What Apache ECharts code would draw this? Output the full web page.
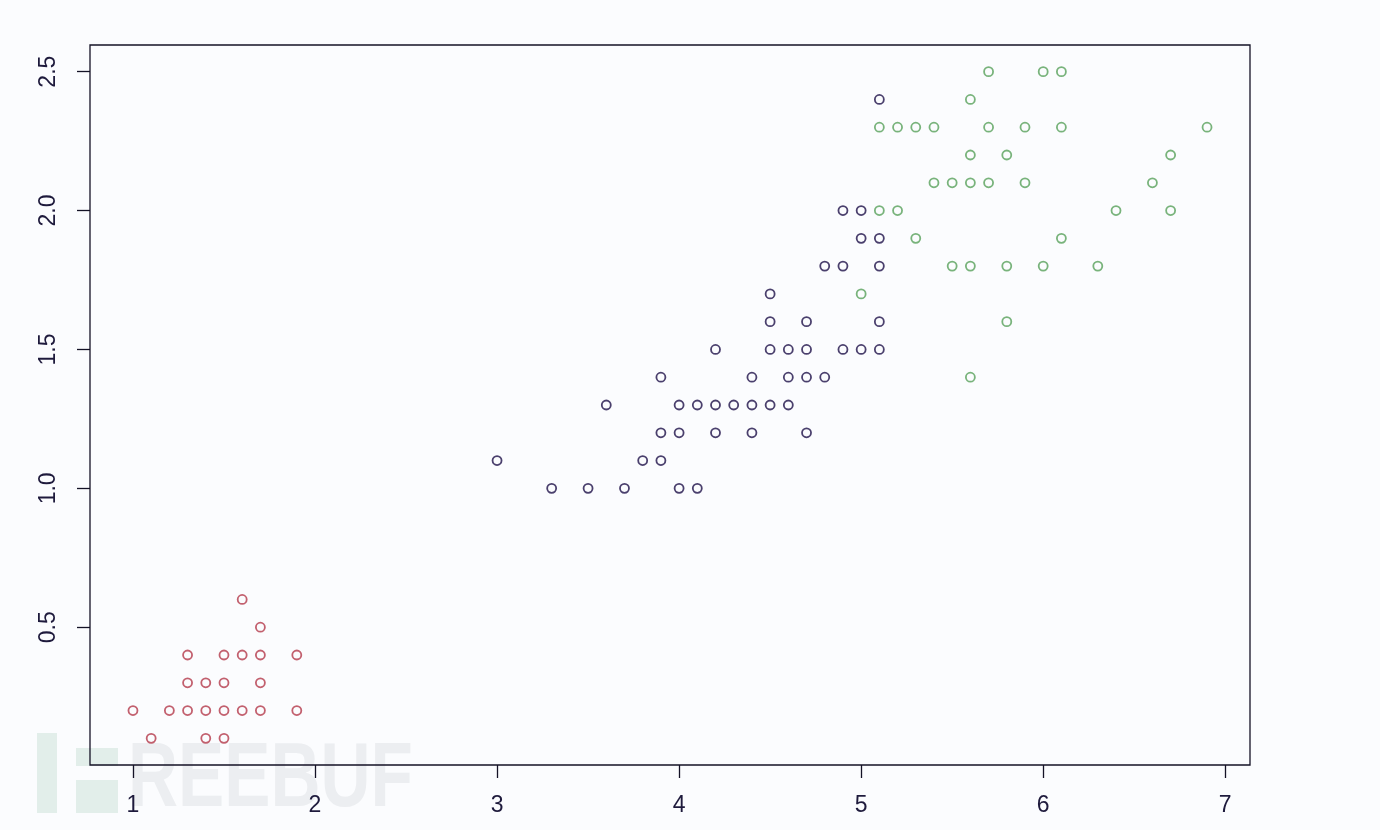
<!DOCTYPE html>
<html>
<head>
<meta charset="utf-8">
<script src="https://cdn.jsdelivr.net/npm/echarts@6/dist/echarts.min.js"></script>
<style>
  html, body { margin: 0; padding: 0; background: #fbfcfe; }
  #chart { width: 1380px; height: 830px; }
</style>
</head>
<body>
<div id="chart"></div>
<script>
// petal length / petal width, one pair of arrays per cluster
const redLength = [1.1, 1.4, 1.5, 1.0, 1.2, 1.3, 1.4, 1.5, 1.6, 1.7, 1.9, 1.3, 1.4, 1.5, 1.7, 1.3, 1.5, 1.6, 1.7, 1.9, 1.7, 1.6]
const redWidth = [0.1, 0.1, 0.1, 0.2, 0.2, 0.2, 0.2, 0.2, 0.2, 0.2, 0.2, 0.3, 0.3, 0.3, 0.3, 0.4, 0.4, 0.4, 0.4, 0.4, 0.5, 0.6]

const darkLength = [3.3, 3.5, 3.7, 4.0, 4.1, 3.0, 3.8, 3.9, 3.9, 4.0, 4.2, 4.4, 4.7,
  3.6, 4.0, 4.1, 4.2, 4.3, 4.4, 4.5, 4.6, 3.9, 4.4, 4.6, 4.7, 4.8,
  4.2, 4.5, 4.6, 4.7, 4.9, 5.0, 5.1, 4.5, 4.7, 5.1, 4.5, 4.8, 4.9, 5.1, 5.0, 5.1, 4.9, 5.0, 5.1]
const darkWidth = [1.0, 1.0, 1.0, 1.0, 1.0, 1.1, 1.1, 1.1, 1.2, 1.2, 1.2, 1.2, 1.2,
  1.3, 1.3, 1.3, 1.3, 1.3, 1.3, 1.3, 1.3, 1.4, 1.4, 1.4, 1.4, 1.4,
  1.5, 1.5, 1.5, 1.5, 1.5, 1.5, 1.5, 1.6, 1.6, 1.6, 1.7, 1.8, 1.8, 1.8, 1.9, 1.9, 2.0, 2.0, 2.4]

const greenLength = [5.7, 6.0, 6.1, 5.6, 5.1, 5.2, 5.3, 5.4, 5.7, 5.9, 6.1, 6.9,
  5.6, 5.8, 6.7, 5.4, 5.5, 5.6, 5.7, 5.9, 6.6, 5.1, 5.2, 6.4, 6.7,
  5.3, 6.1, 5.5, 5.6, 5.8, 6.0, 6.3, 5.0, 5.8, 5.6]
const greenWidth = [2.5, 2.5, 2.5, 2.4, 2.3, 2.3, 2.3, 2.3, 2.3, 2.3, 2.3, 2.3,
  2.2, 2.2, 2.2, 2.1, 2.1, 2.1, 2.1, 2.1, 2.1, 2.0, 2.0, 2.0, 2.0,
  1.9, 1.9, 1.8, 1.8, 1.8, 1.8, 1.8, 1.7, 1.6, 1.4]

const xTicks = [1, 2, 3, 4, 5, 6, 7]
const yTicks = [0.5, 1.0, 1.5, 2.0, 2.5]

const pairs = (xs, ys) => xs.map((x, i) => [x, ys[i]])

const labelColor = '#1e1a3c'
const font = '"Liberation Sans", Arial, sans-serif'

function pointSeries (data, color) {
  return {
    type: 'scatter',
    data: data,
    symbol: 'circle',
    symbolSize: 9,
    itemStyle: {
      color: 'transparent',
      borderColor: color,
      borderWidth: 1.8
    },
    silent: true
  }
}

const option = {
  backgroundColor: '#fbfcfe',
  animation: false,
  grid: {
    left: 90,
    top: 45,
    width: 1160,
    height: 720,
    show: true,
    borderColor: '#141226',
    borderWidth: 1.3,
    backgroundColor: 'transparent'
  },
  xAxis: {
    type: 'value',
    min: 0.764,
    max: 7.136,
    axisLine: { show: false },
    splitLine: { show: false },
    axisTick: {
      show: true,
      customValues: xTicks,
      length: 13,
      lineStyle: { color: '#141226', width: 1.3 }
    },
    axisLabel: {
      customValues: xTicks,
      margin: 29,
      color: labelColor,
      fontSize: 23,
      fontFamily: font
    }
  },
  yAxis: {
    type: 'value',
    min: 0.004,
    max: 2.596,
    axisLine: { show: false },
    splitLine: { show: false },
    axisTick: {
      show: true,
      customValues: yTicks,
      length: 13,
      lineStyle: { color: '#141226', width: 1.3 }
    },
    axisLabel: {
      customValues: yTicks,
      rotate: 90,
      margin: 30,
      color: labelColor,
      fontSize: 23,
      fontFamily: font,
      formatter: v => v.toFixed(1)
    }
  },
  graphic: [
    // faint site watermark, bottom left
    { type: 'rect', z: -1, shape: { x: 37, y: 733, width: 20, height: 80 }, style: { fill: '#e2eeea' } },
    { type: 'rect', z: -1, shape: { x: 76, y: 748, width: 42, height: 18 }, style: { fill: '#e2eeea' } },
    { type: 'rect', z: -1, shape: { x: 76, y: 780, width: 42, height: 33 }, style: { fill: '#e2eeea' } },
    {
      type: 'text',
      z: -1,
      x: 128,
      y: 736,
      scaleX: 0.77,
      style: {
        text: 'REEBUF',
        fill: '#eceef1',
        font: 'bold 90px "Liberation Sans", Arial, sans-serif'
      }
    }
  ],
  series: [
    pointSeries(pairs(redLength, redWidth), '#b4384a'),
    pointSeries(pairs(darkLength, darkWidth), '#1e1048'),
    pointSeries(pairs(greenLength, greenWidth), '#58a05a')
  ]
}

const chart = echarts.init(document.getElementById('chart'))
chart.setOption(option)
</script>
</body>
</html>
